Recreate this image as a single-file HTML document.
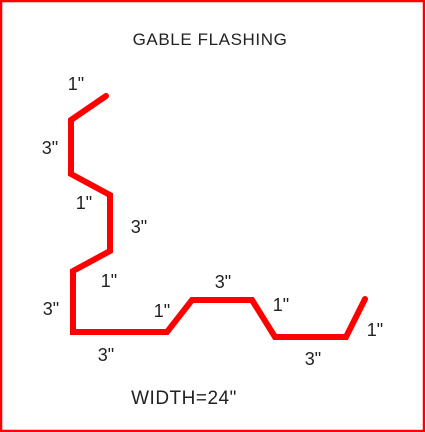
<!DOCTYPE html>
<html><head><meta charset="utf-8"><style>
html,body{margin:0;padding:0;background:#fff;}
svg{display:block;}
text{font-family:"Liberation Sans",sans-serif;fill:#222;}
</style></head><body>
<svg width="425" height="432" viewBox="0 0 425 432">
<rect x="1" y="1" width="423" height="430" fill="#fff" stroke="#f00" stroke-width="2.5"/>
<text x="210" y="45" font-size="17" letter-spacing="0.6" text-anchor="middle">GABLE FLASHING</text>
<polyline fill="none" stroke="#f00" stroke-width="6" stroke-linejoin="miter" stroke-linecap="round"
 points="106,96 71,120 71,174 110,195 110,251 73,271 73,332 167,332 192,300 252,300 275,337 346,337 365,299"/>
<g font-size="18" text-anchor="middle">
<text x="76" y="90">1"</text>
<text x="50" y="154">3"</text>
<text x="84" y="209">1"</text>
<text x="139" y="233">3"</text>
<text x="109" y="287">1"</text>
<text x="51" y="315">3"</text>
<text x="162" y="317">1"</text>
<text x="223" y="288">3"</text>
<text x="281" y="311">1"</text>
<text x="375" y="336">1"</text>
<text x="106" y="361">3"</text>
<text x="313" y="365">3"</text>
</g>
<text x="184" y="404" font-size="19" letter-spacing="0.5" text-anchor="middle">WIDTH=24"</text>
</svg>
</body></html>
